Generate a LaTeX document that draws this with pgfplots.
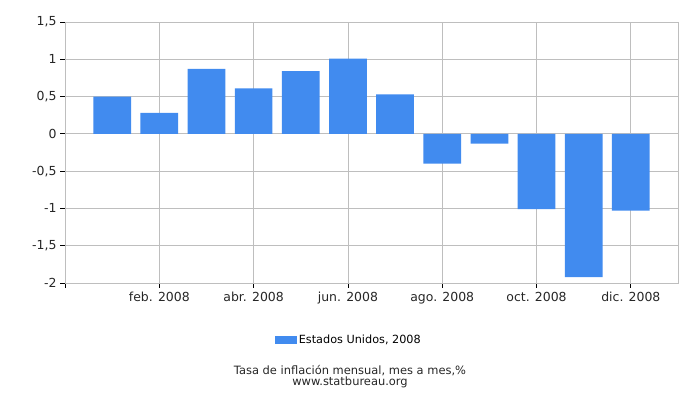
\documentclass[border=0pt]{standalone}
\usepackage{fontspec}
\setmainfont{DejaVu Sans}
\usepackage{pgfplots}
\pgfplotsset{compat=1.18}
\definecolor{barblue}{RGB}{65,139,239}
\definecolor{gridgray}{RGB}{190,190,190}
\begin{document}
\begin{tikzpicture}
\useasboundingbox (0bp,0bp) rectangle (700bp,400bp);
\begin{axis}[
    at={(65bp,117bp)}, anchor=south west,
    scale only axis,
    width=613bp, height=261bp,
    xmin=0, xmax=13,
    ymin=-2, ymax=1.5,
    axis line style={gridgray},
    xtick={0,2,4,6,8,10,12},
    xticklabels={,feb. 2008,abr. 2008,jun. 2008,ago. 2008,oct. 2008,dic. 2008},
    ytick={-2,-1.5,-1,-0.5,0,0.5,1,1.5},
    yticklabels={-2,{-1,5},-1,{-0,5},0,{0,5},1,{1,5}},
    xtick pos=left, ytick pos=left,
    tick align=outside,
    major tick length=5bp,
    tick style={black, line width=0.8bp},
    grid=major,
    major grid style={gridgray, line width=0.8bp},
    ticklabel style={font=\fontsize{12.5}{14}\selectfont, text=black!85},
    xticklabel style={yshift=-1bp},
    ybar, bar width=0.8,
    legend style={at={(0.463,-0.218)}, anchor=center, draw=none,
        font=\fontsize{11.3}{13}\selectfont},
    legend image code/.code={\fill[barblue] (0bp,-4bp) rectangle (22bp,4bp);},
]
\addplot[fill=barblue, draw=none] coordinates {
    (1,0.50) (2,0.28) (3,0.87) (4,0.61) (5,0.84) (6,1.01)
    (7,0.53) (8,-0.40) (9,-0.13) (10,-1.01) (11,-1.92) (12,-1.03)
};
\addlegendentry{Estados Unidos, 2008}
\end{axis}
\node[font=\fontsize{11.5}{13}\selectfont, text=black!85] at (350bp,29bp) {Tasa de inflación mensual, mes a mes,\%};
\node[font=\fontsize{11.5}{13}\selectfont, text=black!85] at (350bp,18bp) {www.statbureau.org};
\end{tikzpicture}
\end{document}
